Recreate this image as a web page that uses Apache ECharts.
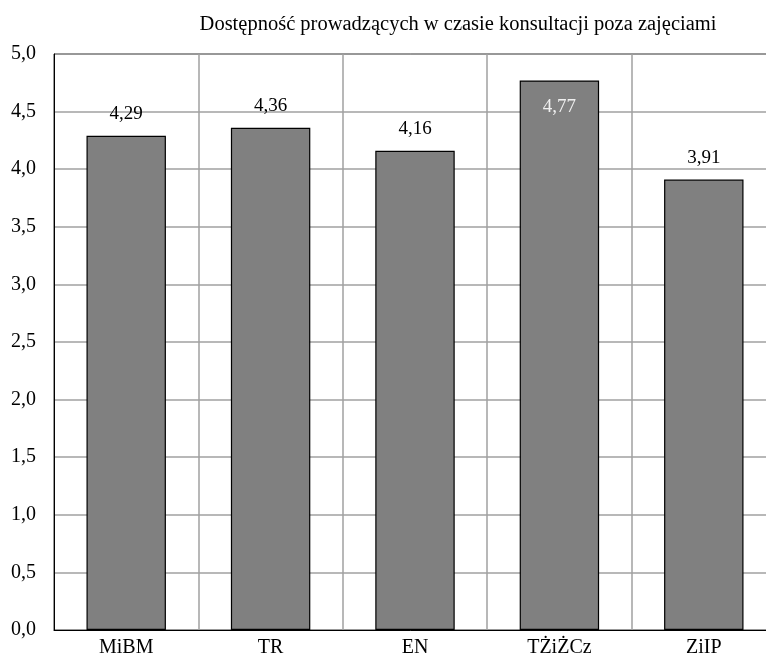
<!DOCTYPE html>
<html>
<head>
<meta charset="utf-8">
<script src="https://cdn.jsdelivr.net/npm/echarts@6/dist/echarts.min.js"></script>
<style>
  html, body { margin: 0; padding: 0; background: #fff; }
  #main { width: 766px; height: 659px; }
</style>
</head>
<body>
<div id="main"></div>
<script>
// dane wykresu
var categories = ['MiBM', 'TR', 'EN', 'TŻiŻCz', 'ZiIP'];
var values = [4.29, 4.36, 4.16, 4.77, 3.91];
var chartTitle = 'Dostępność prowadzących w czasie konsultacji poza zajęciami';

var font = '"Liberation Serif", "Times New Roman", serif';
function fmt(v) { return v.toFixed(2).replace('.', ','); }

var chart = echarts.init(document.getElementById('main'));
var option = {
    animation: false,
    title: {
        text: chartTitle,
        left: 453,
        textAlign: 'center',
        top: 9,
        textStyle: { fontFamily: font, fontSize: 20.5, fontWeight: 'normal', color: '#000' }
    },
    // obszar wykresu wychodzi poza prawą krawędź obrazka (jak w oryginale)
    grid: {
        left: 54, right: -10, top: 54, bottom: 29,
        outerBoundsMode: 'none',
        show: true, borderColor: '#000', borderWidth: 1
    },
    xAxis: {
        type: 'category',
        data: categories,
        axisLine: { lineStyle: { color: '#000' } },
        axisTick: { show: false },
        splitLine: { show: true, lineStyle: { color: '#a0a0a0', width: 1.5 } },
        axisLabel: { fontFamily: font, fontSize: 20, color: '#000', margin: 8 }
    },
    yAxis: {
        type: 'value',
        min: 0, max: 5, interval: 0.5,
        axisLine: { show: true, lineStyle: { color: '#000' } },
        axisTick: { show: false },
        splitLine: { lineStyle: { color: '#a0a0a0', width: 1.5 } },
        axisLabel: {
            fontFamily: font, fontSize: 20, color: '#000', margin: 18,
            formatter: function (v) { return v.toFixed(1).replace('.', ','); }
        }
    },
    series: [{
        type: 'bar',
        barWidth: '55%',
        data: values.map(function (v) {
            var inside = v > 4.6;
            return {
                value: v,
                label: inside ? { position: 'insideTop', distance: 17, color: '#f0f0f0' } : {}
            };
        }),
        itemStyle: { color: '#808080', borderColor: '#000', borderWidth: 1.2 },
        label: {
            show: true, position: 'top', distance: 12,
            fontFamily: font, fontSize: 19, color: '#000',
            formatter: function (p) { return fmt(p.value); }
        }
    }]
};
chart.setOption(option);
</script>
</body>
</html>
